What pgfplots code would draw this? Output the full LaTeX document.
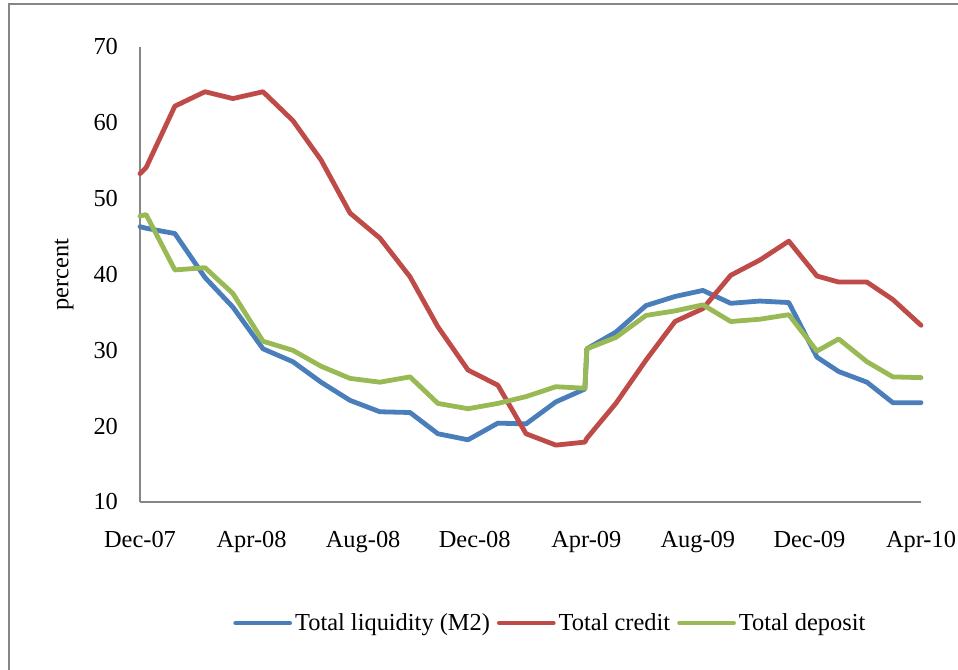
\documentclass[border=0pt]{standalone}
\usepackage{pgfplots}
\usepackage{pgfplotstable}
\pgfplotsset{compat=1.18}
\usepackage{fontspec}
\setmainfont{Liberation Serif}
\definecolor{cblue}{HTML}{4A7EBB}
\definecolor{cred}{HTML}{BE4B48}
\definecolor{cgreen}{HTML}{98B954}
\definecolor{cgray}{HTML}{868686}
\pgfplotstableread{
x      m2    credit  deposit
0.00   46.3  53.3    47.7
0.22   46.1  54.1    47.9
1.25   45.4  62.2    40.6
2.33   39.6  64.1    40.9
3.33   35.7  63.2    37.5
4.41   30.2  64.1    31.2
5.48   28.5  60.3    30.0
6.49   25.8  55.1    27.9
7.53   23.4  48.1    26.3
8.60   21.9  44.8    25.8
9.68   21.8  39.7    26.5
10.68  19.0  33.1    23.0
11.76  18.2  27.4    22.3
12.83  20.4  25.4    23.0
13.84  20.3  19.0    23.9
14.91  23.2  17.5    25.2
15.95  24.9  17.9    25.0
16.02  30.2  18.4    30.2
17.06  32.4  23.0    31.7
18.14  35.9  28.7    34.6
19.18  37.1  33.8    35.2
20.18  37.9  35.5    36.0
21.18  36.2  39.9    33.8
22.22  36.5  41.9    34.1
23.26  36.3  44.4    34.7
24.27  29.1  39.8    29.9
25.05  27.2  39.0    31.5
26.06  25.8  39.0    28.5
26.99  23.1  36.7    26.5
28.00  23.1  33.3    26.4
}\datatable
\begin{document}
\begin{tikzpicture}[font=\fontsize{12.2}{14.6}\selectfont]
\useasboundingbox (0,0) rectangle (479pt,334.5pt);
\begin{scope}
\clip (0,0) rectangle (479pt,334.5pt);
\draw[cgray, line width=1pt] (4.5pt,-20pt) rectangle (500pt,332.5pt);
\end{scope}
\begin{axis}[
  at={(70pt,83.5pt)}, anchor=south west,
  scale only axis, width=390.5pt, height=227.5pt,
  xmin=0, xmax=28, ymin=10, ymax=70,
  axis lines*=left,
  axis line style={cgray, line width=0.9pt},
  xtick={0,4,...,28},
  xticklabels={Dec-07,Apr-08,Aug-08,Dec-08,Apr-09,Aug-09,Dec-09,Apr-10},
  ytick={10,20,...,70},
  major tick length=0pt,
  tick style={draw=none},
  /pgf/number format/assume math mode=true,
  yticklabel style={xshift=-7.5pt},
  xticklabel style={yshift=-11pt},
  ylabel={percent},
  every axis y label/.style={at={(axis description cs:-0.0973,0.5)}, rotate=90, anchor=center},
  clip=false,
  legend columns=-1,
  legend style={at={(0.526,-0.266)}, anchor=center, draw=none, fill=none,
    /tikz/every even column/.append style={column sep=2pt},
    nodes={inner sep=1.5pt}},
  legend image code/.code={\draw[#1] (0pt,0pt) -- (27pt,0pt);},
  every axis plot/.append style={line width=2.4pt, line join=round, line cap=round},
]
\addplot[cblue] table[x=x, y=m2] {\datatable};
\addlegendentry{Total liquidity (M2)}
\addplot[cred] table[x=x, y=credit] {\datatable};
\addlegendentry{Total credit}
\addplot[cgreen] table[x=x, y=deposit] {\datatable};
\addlegendentry{Total deposit}
\end{axis}
\end{tikzpicture}
\end{document}
